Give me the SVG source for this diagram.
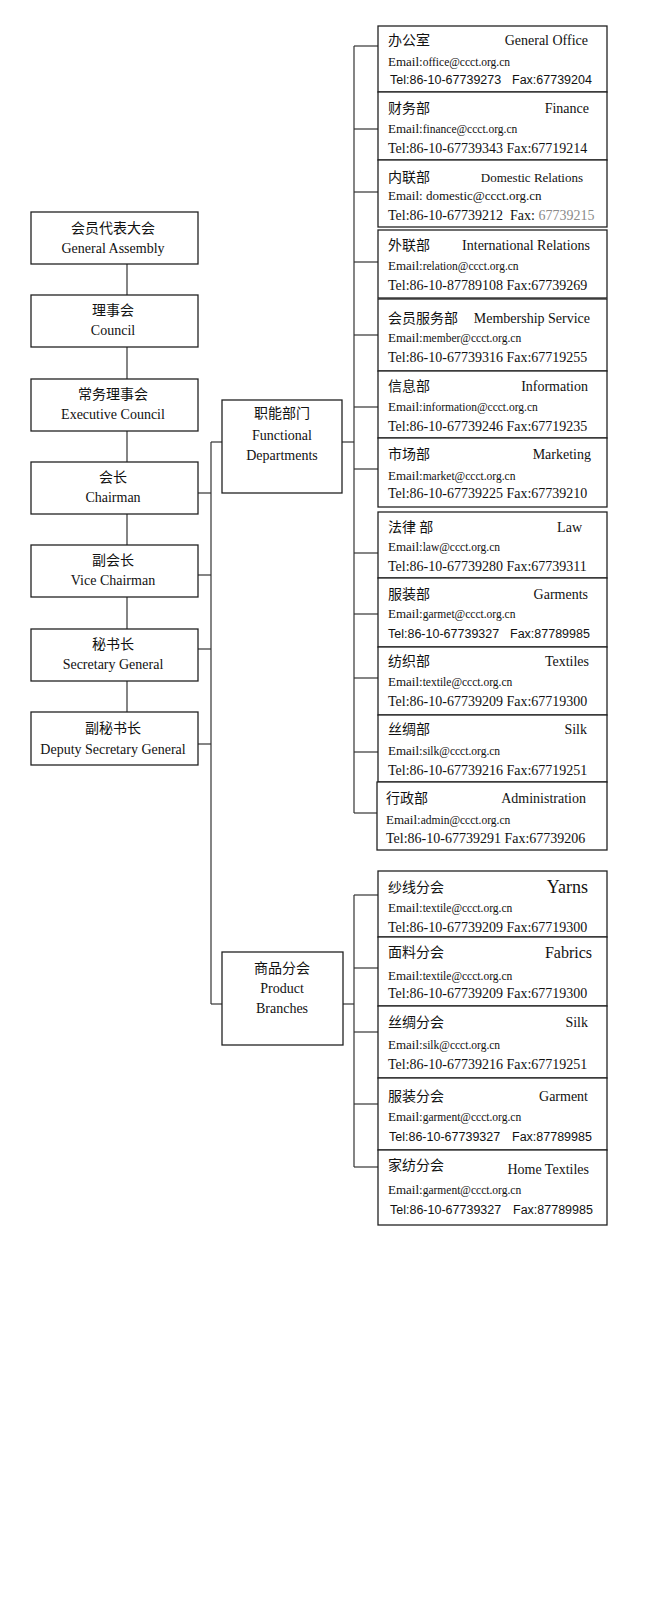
<svg xmlns="http://www.w3.org/2000/svg" width="647" height="1600" viewBox="0 0 647 1600">
<style>
.box{fill:#fff;stroke:#222;stroke-width:1.3}
.cn{font-family:"Noto Sans CJK SC","Noto Sans CJK TC",sans-serif;font-size:14px;fill:#111}
.en{font-family:"Liberation Serif","Times New Roman",serif;font-size:14px;fill:#111}
.mid{text-anchor:middle}
.end{text-anchor:end}
.em{font-family:"Liberation Serif","Times New Roman",serif;font-size:13px;fill:#111}
.ad{font-size:11.5px}
.tel{font-family:"Liberation Serif","Times New Roman",serif;font-size:14px;fill:#111}
.tels{font-family:"Liberation Sans",Arial,sans-serif;font-size:12.5px;fill:#111}
.conn line{stroke:#333;stroke-width:1.2}
</style>
<rect width="647" height="1600" fill="#fff"/>

<g id="connectors" class="conn">
  <line x1="127" y1="264" x2="127" y2="295"/>
  <line x1="127" y1="347" x2="127" y2="379"/>
  <line x1="127" y1="431" x2="127" y2="462"/>
  <line x1="127" y1="514" x2="127" y2="545"/>
  <line x1="127" y1="597" x2="127" y2="629"/>
  <line x1="127" y1="681" x2="127" y2="712"/>
  <line x1="211" y1="442" x2="211" y2="1004"/>
  <line x1="211" y1="442" x2="222" y2="442"/>
  <line x1="211" y1="1004" x2="222" y2="1004"/>
  <line x1="198" y1="493" x2="211" y2="493"/>
  <line x1="198" y1="575" x2="211" y2="575"/>
  <line x1="198" y1="649" x2="211" y2="649"/>
  <line x1="198" y1="744" x2="211" y2="744"/>
  <line x1="342" y1="442" x2="354" y2="442"/>
  <line x1="354" y1="46" x2="354" y2="813"/>
  <line x1="354" y1="46" x2="378" y2="46"/>
  <line x1="354" y1="129" x2="378" y2="129"/>
  <line x1="354" y1="192" x2="378" y2="192"/>
  <line x1="354" y1="262" x2="378" y2="262"/>
  <line x1="354" y1="335" x2="378" y2="335"/>
  <line x1="354" y1="407" x2="378" y2="407"/>
  <line x1="354" y1="469" x2="378" y2="469"/>
  <line x1="354" y1="553" x2="378" y2="553"/>
  <line x1="354" y1="614" x2="378" y2="614"/>
  <line x1="354" y1="678" x2="378" y2="678"/>
  <line x1="354" y1="752" x2="378" y2="752"/>
  <line x1="354" y1="813" x2="378" y2="813"/>
  <line x1="343" y1="1004" x2="354" y2="1004"/>
  <line x1="354" y1="895" x2="354" y2="1167"/>
  <line x1="354" y1="895" x2="378" y2="895"/>
  <line x1="354" y1="968" x2="378" y2="968"/>
  <line x1="354" y1="1032" x2="378" y2="1032"/>
  <line x1="354" y1="1104" x2="378" y2="1104"/>
  <line x1="354" y1="1167" x2="378" y2="1167"/>
</g>

<g id="general-assembly"><rect class="box" x="31" y="212" width="167" height="52"/><text class="cn mid" x="113" y="233">会员代表大会</text><text class="en mid" x="113" y="253">General Assembly</text></g>
<g id="council"><rect class="box" x="31" y="295" width="167" height="52"/><text class="cn mid" x="113" y="315">理事会</text><text class="en mid" x="113" y="335">Council</text></g>
<g id="executive-council"><rect class="box" x="31" y="379" width="167" height="52"/><text class="cn mid" x="113" y="399">常务理事会</text><text class="en mid" x="113" y="419">Executive Council</text></g>
<g id="chairman"><rect class="box" x="31" y="462" width="167" height="52"/><text class="cn mid" x="113" y="482">会长</text><text class="en mid" x="113" y="502">Chairman</text></g>
<g id="vice-chairman"><rect class="box" x="31" y="545" width="167" height="52"/><text class="cn mid" x="113" y="565">副会长</text><text class="en mid" x="113" y="585">Vice Chairman</text></g>
<g id="secretary-general"><rect class="box" x="31" y="629" width="167" height="52"/><text class="cn mid" x="113" y="649">秘书长</text><text class="en mid" x="113" y="669">Secretary General</text></g>
<g id="deputy-secretary-general"><rect class="box" x="31" y="712" width="167" height="53"/><text class="cn mid" x="113" y="733">副秘书长</text><text class="en mid" x="113" y="754">Deputy Secretary General</text></g>

<g id="functional-departments"><rect class="box" x="222" y="400" width="120" height="93"/><text class="cn mid" x="282" y="418">职能部门</text><text class="en mid" x="282" y="440">Functional</text><text class="en mid" x="282" y="460">Departments</text></g>
<g id="product-branches"><rect class="box" x="222" y="952" width="121" height="93"/><text class="cn mid" x="282" y="973">商品分会</text><text class="en mid" x="282" y="993">Product</text><text class="en mid" x="282" y="1013">Branches</text></g>

<g id="general-office"><rect class="box" x="378" y="26" width="229" height="66"/><text class="cn" x="388" y="45">办公室</text><text class="en end" x="588" y="45">General Office</text><text class="em" x="388" y="66">Email:<tspan class="ad">office@ccct.org.cn</tspan></text><text class="tels" x="390" y="84">Tel:86-10-67739273<tspan x="512">Fax:67739204</tspan></text></g>
<g id="finance"><rect class="box" x="378" y="92" width="229" height="68"/><text class="cn" x="388" y="113">财务部</text><text class="en end" x="589" y="113">Finance</text><text class="em" x="388" y="133">Email:<tspan class="ad">finance@ccct.org.cn</tspan></text><text class="tel" x="388" y="153">Tel:86-10-67739343 Fax:67719214</text></g>
<g id="domestic-relations"><rect class="box" x="378" y="160" width="229" height="67"/><text class="cn" x="388" y="182">内联部</text><text class="en end" x="583" y="182" style="font-size:13px">Domestic Relations</text><text class="em" x="388" y="200">Email: domestic@ccct.org.cn</text><text class="tel" x="388" y="220">Tel:86-10-67739212<tspan x="510">Fax: </tspan><tspan fill="#8a8a8a">67739215</tspan></text></g>
<g id="international-relations"><rect class="box" x="378" y="230" width="229" height="68"/><text class="cn" x="388" y="250">外联部</text><text class="en end" x="590" y="250">International Relations</text><text class="em" x="388" y="270">Email:<tspan class="ad">relation@ccct.org.cn</tspan></text><text class="tel" x="388" y="290">Tel:86-10-87789108 Fax:67739269</text></g>
<g id="membership-service"><rect class="box" x="378" y="299" width="229" height="72"/><text class="cn" x="388" y="323">会员服务部</text><text class="en end" x="590" y="323">Membership Service</text><text class="em" x="388" y="342">Email:<tspan class="ad">member@ccct.org.cn</tspan></text><text class="tel" x="388" y="362">Tel:86-10-67739316 Fax:67719255</text></g>
<g id="information"><rect class="box" x="378" y="371" width="229" height="67"/><text class="cn" x="388" y="391">信息部</text><text class="en end" x="588" y="391">Information</text><text class="em" x="388" y="411">Email:<tspan class="ad">information@ccct.org.cn</tspan></text><text class="tel" x="388" y="431">Tel:86-10-67739246 Fax:67719235</text></g>
<g id="marketing"><rect class="box" x="378" y="438" width="229" height="69"/><text class="cn" x="388" y="459">市场部</text><text class="en end" x="591" y="459">Marketing</text><text class="em" x="388" y="480">Email:<tspan class="ad">market@ccct.org.cn</tspan></text><text class="tel" x="388" y="498">Tel:86-10-67739225 Fax:67739210</text></g>
<g id="law"><rect class="box" x="378" y="512" width="229" height="66"/><text class="cn" x="388" y="532">法律 部</text><text class="en end" x="582" y="532">Law</text><text class="em" x="388" y="551">Email:<tspan class="ad">law@ccct.org.cn</tspan></text><text class="tel" x="388" y="571">Tel:86-10-67739280 Fax:67739311</text></g>
<g id="garments"><rect class="box" x="378" y="578" width="229" height="69"/><text class="cn" x="388" y="599">服装部</text><text class="en end" x="588" y="599">Garments</text><text class="em" x="388" y="618">Email:<tspan class="ad">garmet@ccct.org.cn</tspan></text><text class="tels" x="388" y="638">Tel:86-10-67739327<tspan x="510">Fax:87789985</tspan></text></g>
<g id="textiles"><rect class="box" x="378" y="647" width="229" height="68"/><text class="cn" x="388" y="666">纺织部</text><text class="en end" x="589" y="666">Textiles</text><text class="em" x="388" y="686">Email:<tspan class="ad">textile@ccct.org.cn</tspan></text><text class="tel" x="388" y="706">Tel:86-10-67739209 Fax:67719300</text></g>
<g id="silk-dept"><rect class="box" x="378" y="715" width="229" height="67"/><text class="cn" x="388" y="734">丝绸部</text><text class="en end" x="587" y="734">Silk</text><text class="em" x="388" y="755">Email:<tspan class="ad">silk@ccct.org.cn</tspan></text><text class="tel" x="388" y="775">Tel:86-10-67739216 Fax:67719251</text></g>
<g id="administration"><rect class="box" x="377" y="782" width="230" height="68"/><text class="cn" x="386" y="803">行政部</text><text class="en end" x="586" y="803">Administration</text><text class="em" x="386" y="824">Email:<tspan class="ad">admin@ccct.org.cn</tspan></text><text class="tel" x="386" y="843">Tel:86-10-67739291 Fax:67739206</text></g>

<g id="yarns"><rect class="box" x="378" y="871" width="229" height="66"/><text class="cn" x="388" y="892">纱线分会</text><text class="en end" x="588" y="893" style="font-size:18px">Yarns</text><text class="em" x="388" y="912">Email:<tspan class="ad">textile@ccct.org.cn</tspan></text><text class="tel" x="388" y="932">Tel:86-10-67739209 Fax:67719300</text></g>
<g id="fabrics"><rect class="box" x="378" y="937" width="229" height="69"/><text class="cn" x="388" y="957">面料分会</text><text class="en end" x="592" y="958" style="font-size:16px">Fabrics</text><text class="em" x="388" y="980">Email:<tspan class="ad">textile@ccct.org.cn</tspan></text><text class="tel" x="388" y="998">Tel:86-10-67739209 Fax:67719300</text></g>
<g id="silk-branch"><rect class="box" x="378" y="1006" width="229" height="72"/><text class="cn" x="388" y="1027">丝绸分会</text><text class="en end" x="588" y="1027">Silk</text><text class="em" x="388" y="1049">Email:<tspan class="ad">silk@ccct.org.cn</tspan></text><text class="tel" x="388" y="1069">Tel:86-10-67739216 Fax:67719251</text></g>
<g id="garment-branch"><rect class="box" x="378" y="1078" width="229" height="72"/><text class="cn" x="388" y="1101">服装分会</text><text class="en end" x="588" y="1101">Garment</text><text class="em" x="388" y="1121">Email:<tspan class="ad">garment@ccct.org.cn</tspan></text><text class="tels" x="389" y="1141">Tel:86-10-67739327<tspan x="512">Fax:87789985</tspan></text></g>
<g id="home-textiles"><rect class="box" x="378" y="1150" width="229" height="75"/><text class="cn" x="388" y="1170">家纺分会</text><text class="en end" x="589" y="1174">Home Textiles</text><text class="em" x="388" y="1194">Email:<tspan class="ad">garment@ccct.org.cn</tspan></text><text class="tels" x="390" y="1214">Tel:86-10-67739327<tspan x="513">Fax:87789985</tspan></text></g>
</svg>
